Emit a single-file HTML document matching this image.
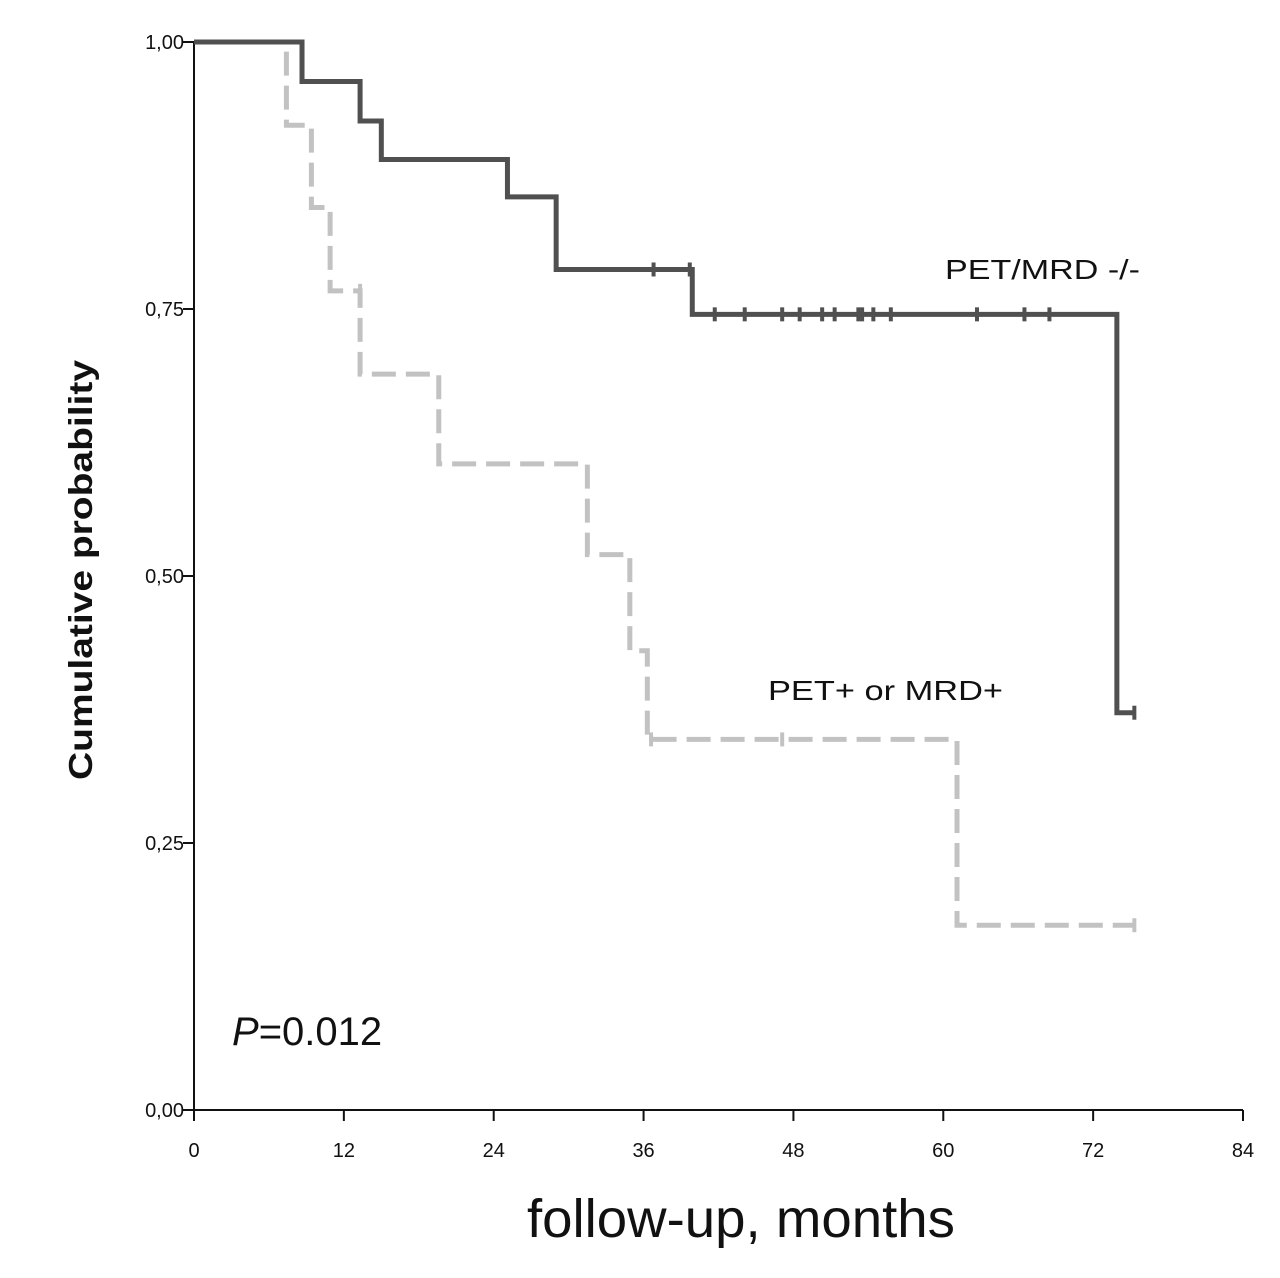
<!DOCTYPE html>
<html><head><meta charset="utf-8"><style>
body{margin:0;background:#fff;}
svg{display:block;font-family:"Liberation Sans",sans-serif;}
</style></head><body>
<svg id="chart" width="1280" height="1278">
<g id="axes"></g>
<g id="series"></g>
<text x="945" y="279" font-size="28" textLength="195" lengthAdjust="spacingAndGlyphs" fill="#111">PET/MRD -/-</text>
<text x="768" y="700" font-size="28" textLength="235" lengthAdjust="spacingAndGlyphs" fill="#111">PET+ or MRD+</text>
<text x="232" y="1045" font-size="40" fill="#111"><tspan font-style="italic">P</tspan>=0.012</text>
<text x="527" y="1237" font-size="54" textLength="428" lengthAdjust="spacingAndGlyphs" fill="#111">follow-up, months</text>
<text transform="translate(92,570) rotate(-90)" font-size="33" font-weight="bold" text-anchor="middle" textLength="420" lengthAdjust="spacingAndGlyphs" fill="#111">Cumulative probability</text>
</svg>
<script>
const xTicks=[0,12,24,36,48,60,72,84];
const yTicks=[0,0.25,0.5,0.75,1];
const yTickLabels=["0,00","0,25","0,50","0,75","1,00"];
const negTimes=[0,8.65,13.3,15,25.1,29,39.9,73.9,75.3];
const negSurv=[1,0.963,0.926,0.89,0.855,0.787,0.745,0.372,0.372];
const negCensorT=[36.8,39.7,41.7,44.1,47.1,48.5,50.3,51.3,53.2,53.5,54.4,55.8,62.7,66.5,68.5,75.3];
const posTimes=[0,7.4,9.4,10.9,13.3,19.6,31.5,34.9,36.3,61.1,75.3];
const posSurv=[1,0.922,0.845,0.767,0.689,0.605,0.52,0.43,0.347,0.173,0.173];
const posCensorT=[13.3,36.6,47.1,75.3];
const X=t=>194+t*(1243-194)/84;
const Y=p=>1110-p*(1110-42);
const NS="http://www.w3.org/2000/svg";
function mk(tag,attrs,parent){const e=document.createElementNS(NS,tag);for(const k in attrs)e.setAttribute(k,attrs[k]);parent.appendChild(e);return e;}
const ax=document.getElementById('axes');
let l=mk('line',{x1:194,y1:42,x2:194,y2:1110,stroke:'#111','stroke-width':2},ax);


l=mk('line',{x1:194,y1:1110,x2:1243,y2:1110,stroke:'#111','stroke-width':2},ax);


xTicks.forEach(t=>{
 const tk=mk('line',{x1:X(t),y1:1110,x2:X(t),y2:1121,stroke:'#111','stroke-width':2},ax);
 
 
 const tx=mk('text',{x:X(t),y:1157,'font-size':20,'text-anchor':'middle',fill:'#111'},ax);
 tx.textContent=t;
 
 
});
yTicks.forEach((p,i)=>{
 const tk=mk('line',{x1:183,y1:Y(p),x2:194,y2:Y(p),stroke:'#111','stroke-width':2},ax);
 
 
 const tx=mk('text',{x:184,y:Y(p)+7,'font-size':20,'text-anchor':'end',fill:'#111'},ax);
 tx.textContent=yTickLabels[i];
 
 
});
function surv(ts,ss,t){let s=ss[0];for(let i=0;i<ts.length;i++){if(ts[i]<=t)s=ss[i];}return s;}
const sg=document.getElementById('series');
function drawSeries(ts,ss,ct,color,dash,name){
 let d=`M${X(ts[0])},${Y(ss[0])}`;
 for(let i=1;i<ts.length;i++){d+=` H${X(ts[i])} V${Y(ss[i])}`;}
 const p=mk('path',{d:d,fill:'none',stroke:color,'stroke-width':5,'stroke-dasharray':dash},sg);
 
 
 ct.forEach(t=>{
  const y=Y(surv(ts,ss,t-0.001));
  const c=mk('line',{x1:X(t),y1:y-7,x2:X(t),y2:y+7,stroke:color,'stroke-width':4},sg);
  
  
 });
}
drawSeries(posTimes,posSurv,posCensorT,'#c2c2c2','24 10','pet-or-mrd-positive');
drawSeries(negTimes,negSurv,negCensorT,'#505050','none','pet-mrd-negative');
</script>
</body></html>
